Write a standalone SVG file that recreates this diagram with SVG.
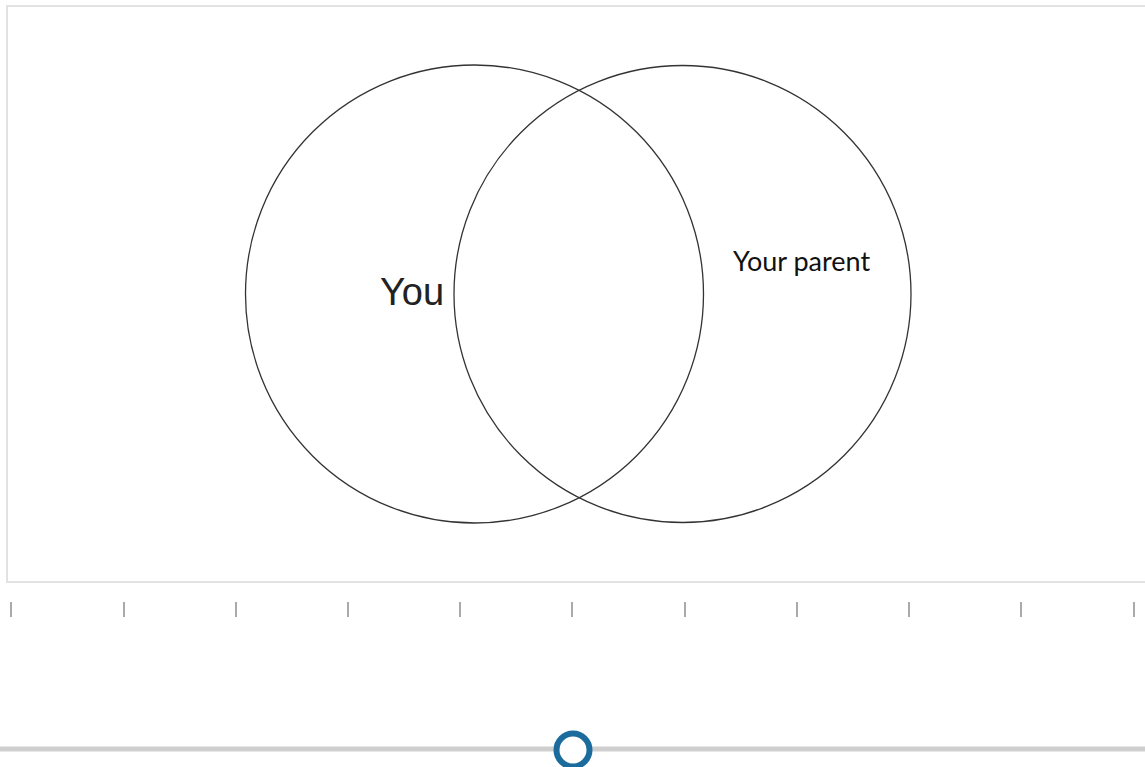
<svg xmlns="http://www.w3.org/2000/svg" width="1145" height="767" viewBox="0 0 1145 767">
<style>
.venn{fill:none;stroke:#333;stroke-width:1.3}
.tick{stroke:#aaa;stroke-width:2}
</style>
<rect width="1145" height="767" fill="#fff"/>
<rect x="7" y="6" width="1150" height="576" fill="#fff" stroke="#e2e2e2" stroke-width="2"/>
<g id="you">
<circle class="venn" cx="474.5" cy="294" r="229"/>
<text x="380" y="305" font-family="Liberation Sans, Arial, sans-serif" font-size="38" fill="#222">You</text>
</g>
<g id="parent">
<circle class="venn" cx="682.5" cy="294" r="228.5"/>
<text x="733" y="271" font-family="Lato, sans-serif" font-size="27" fill="#111">Your parent</text>
</g>
<g id="ticks">
<line class="tick" x1="11" y1="602" x2="11" y2="617"/>
<line class="tick" x1="124" y1="602" x2="124" y2="617"/>
<line class="tick" x1="236" y1="602" x2="236" y2="617"/>
<line class="tick" x1="348" y1="602" x2="348" y2="617"/>
<line class="tick" x1="460" y1="602" x2="460" y2="617"/>
<line class="tick" x1="572" y1="602" x2="572" y2="617"/>
<line class="tick" x1="685" y1="602" x2="685" y2="617"/>
<line class="tick" x1="797" y1="602" x2="797" y2="617"/>
<line class="tick" x1="909" y1="602" x2="909" y2="617"/>
<line class="tick" x1="1021" y1="602" x2="1021" y2="617"/>
<line class="tick" x1="1134" y1="602" x2="1134" y2="617"/>
</g>
<g id="slider">
<line x1="0" y1="749" x2="1145" y2="749" stroke="#cfcfcf" stroke-width="5"/>
<circle cx="573" cy="750" r="16.5" fill="#fff" stroke="#1b6c9c" stroke-width="6"/>
</g>
</svg>
